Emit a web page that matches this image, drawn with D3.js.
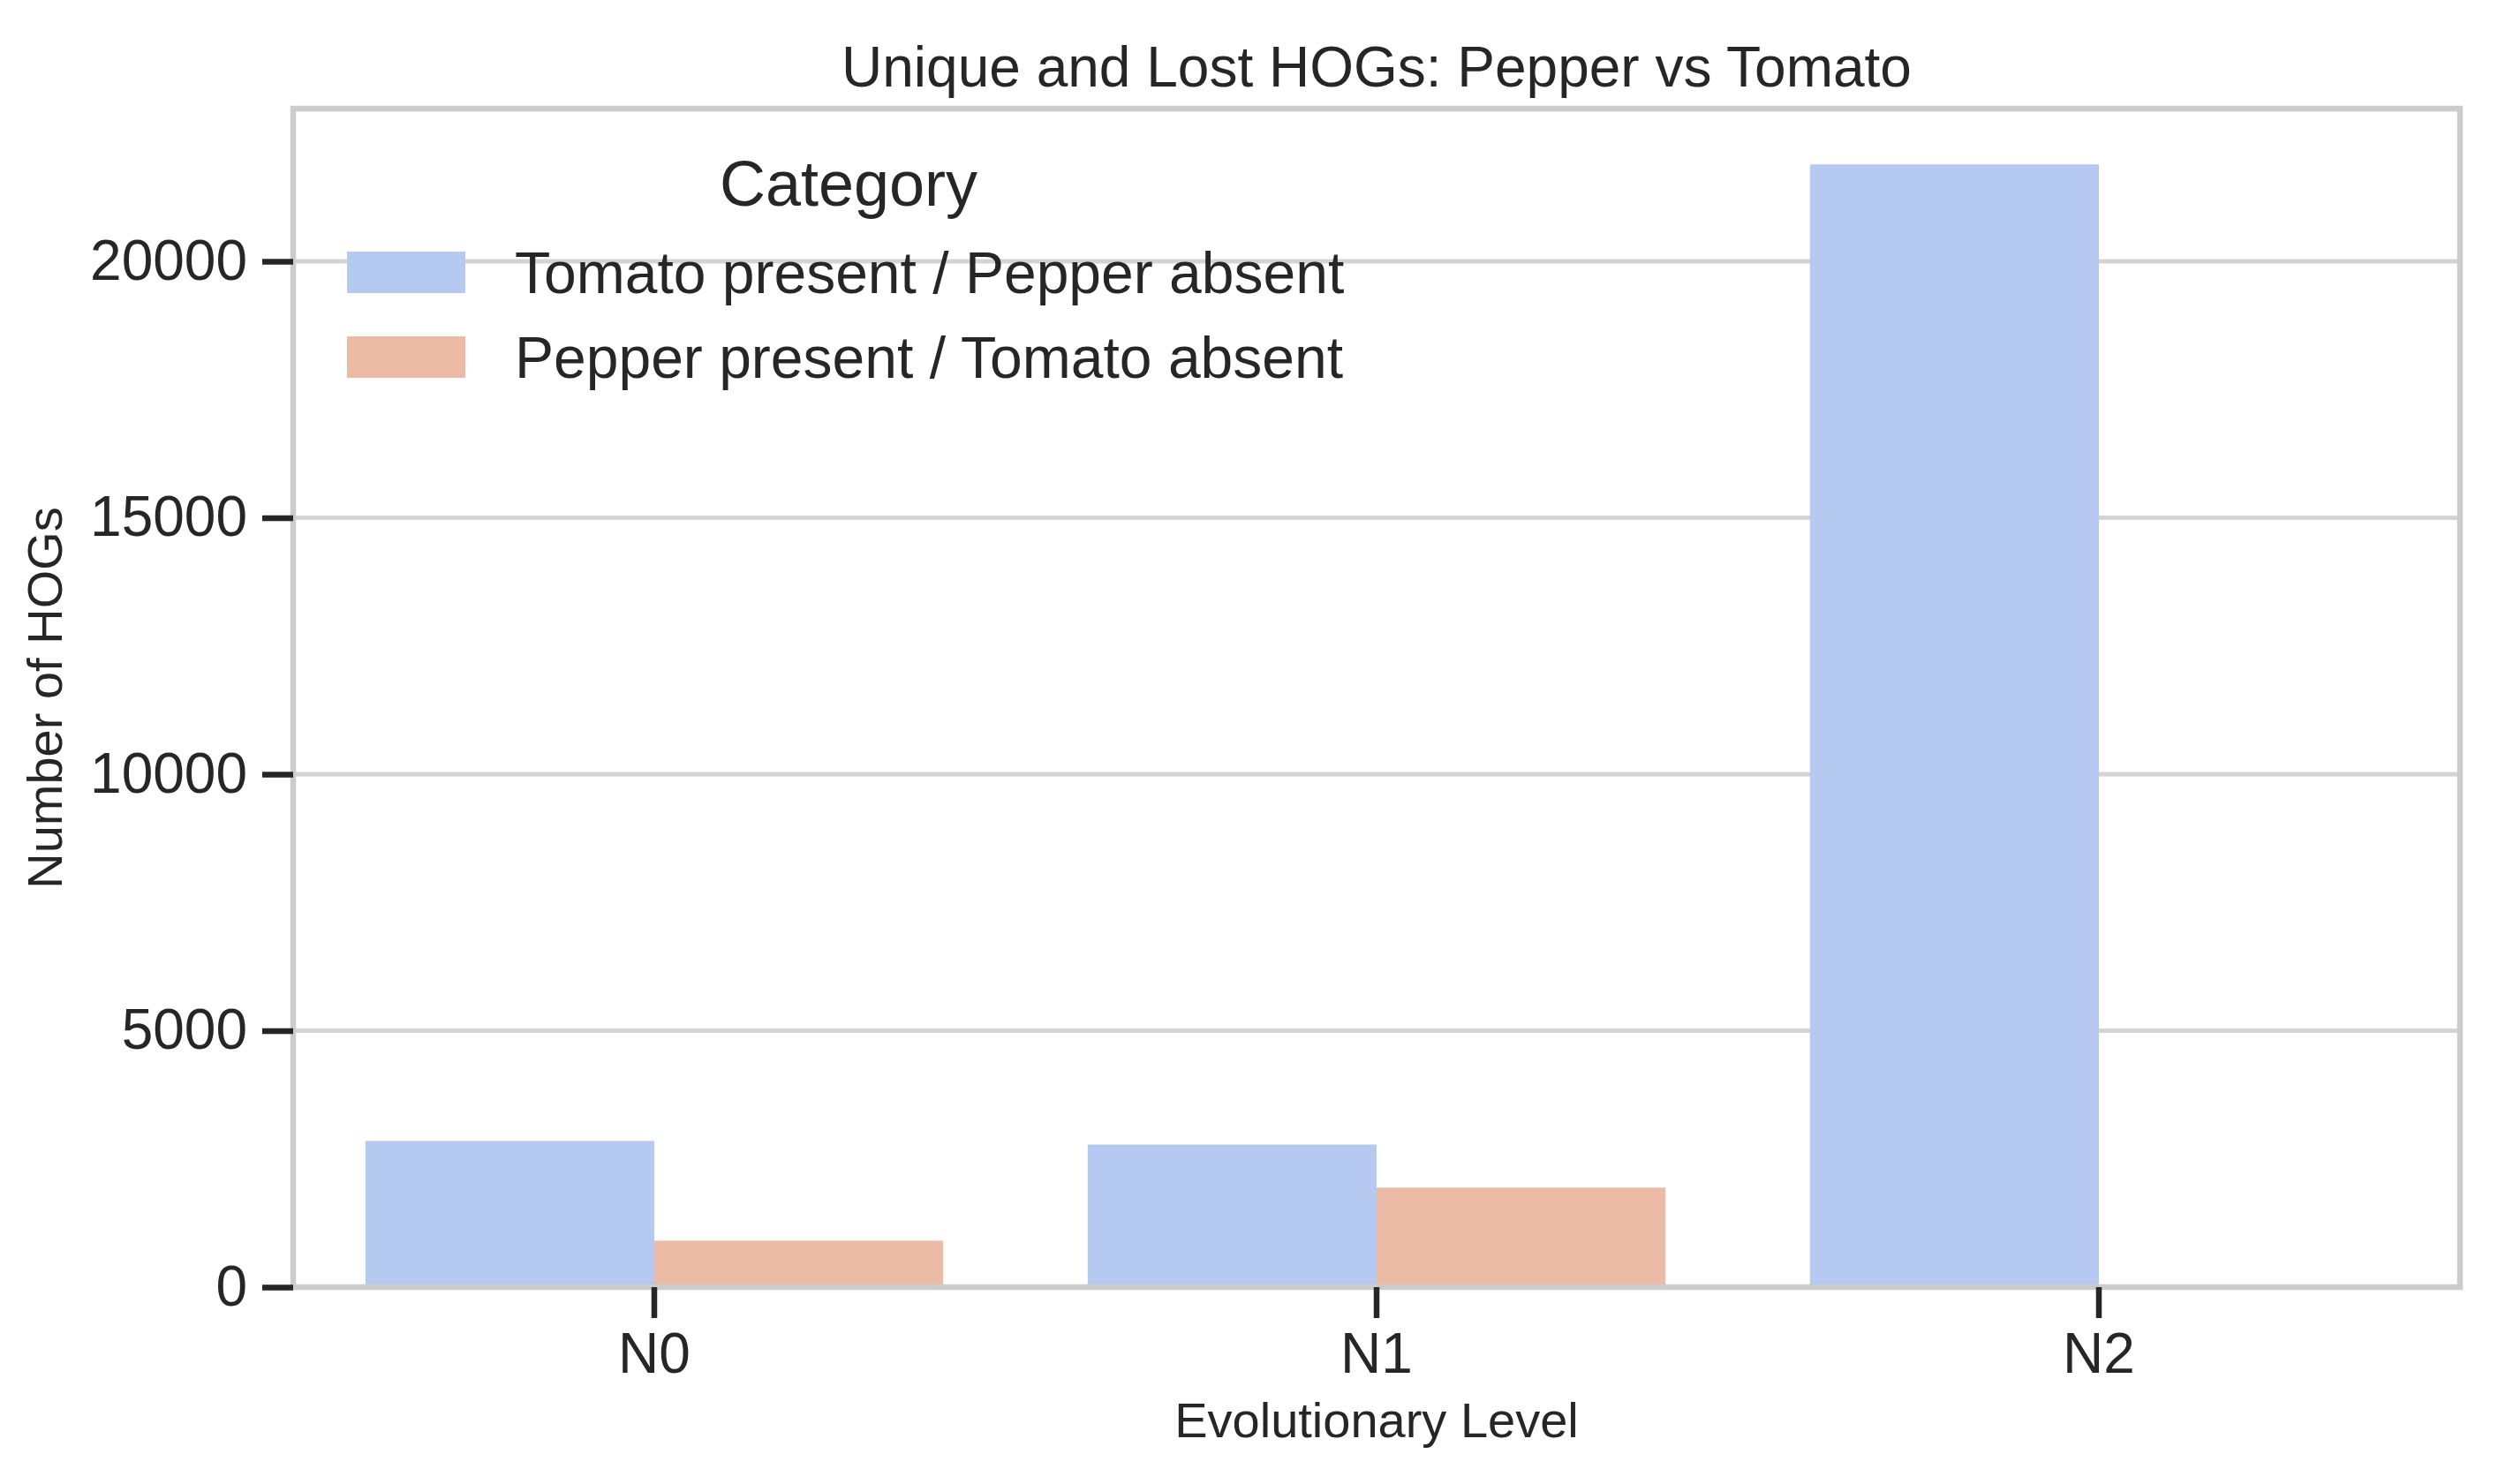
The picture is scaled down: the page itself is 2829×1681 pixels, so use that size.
<!DOCTYPE html>
<html>
<head>
<meta charset="utf-8">
<script src="https://cdn.jsdelivr.net/npm/d3@7"></script>
<style>
  html, body { margin: 0; padding: 0; background: #ffffff; }
  svg { display: block; }
  text { font-family: "Liberation Sans", Arial, sans-serif; fill: #262626; }
</style>
</head>
<body>
<svg id="chart" width="2829" height="1681"></svg>
<script>
// ---- data ----
const levels = ["N0", "N1", "N2"];
const seriesNames = ["Tomato present / Pepper absent", "Pepper present / Tomato absent"];
const tomatoPresent = [2850, 2780, 21890];
const pepperPresent = [905, 1940, 0];
const yTicks = [0, 5000, 10000, 15000, 20000];
const seriesColors = ["#b5c9f1", "#ebbba5"];

const titleText = "Unique and Lost HOGs: Pepper vs Tomato";
const xLabel = "Evolutionary Level";
const yLabel = "Number of HOGs";
const legendTitle = "Category";

// ---- layout ----
const W = 2829, H = 1681;
const plot = { left: 332, right: 2786, top: 123, bottom: 1458 };
const yMax = 22978;

const svg = d3.select("#chart");
svg.append("rect").attr("width", W).attr("height", H).attr("fill", "#ffffff");

const x0 = d3.scaleBand().domain(levels).range([plot.left, plot.right])
  .paddingInner(0.2).paddingOuter(0.1);
const x1 = d3.scaleBand().domain(seriesNames).range([0, x0.bandwidth()]).padding(0);
const y = d3.scaleLinear().domain([0, yMax]).range([plot.bottom, plot.top]);
const color = d3.scaleOrdinal().domain(seriesNames).range(seriesColors);

const rows = levels.map((lv, i) => ({
  level: lv,
  values: [
    { key: seriesNames[0], value: tomatoPresent[i] },
    { key: seriesNames[1], value: pepperPresent[i] }
  ]
}));

// grid lines
svg.append("g").selectAll("line").data(yTicks).join("line")
  .attr("x1", plot.left).attr("x2", plot.right)
  .attr("y1", d => y(d)).attr("y2", d => y(d))
  .attr("stroke", "#d4d4d4").attr("stroke-width", 5);

// bars
const groups = svg.append("g").selectAll("g").data(rows).join("g")
  .attr("transform", d => `translate(${x0(d.level)},0)`);
groups.selectAll("rect").data(d => d.values).join("rect")
  .attr("x", d => x1(d.key))
  .attr("width", x1.bandwidth())
  .attr("y", d => y(d.value))
  .attr("height", d => y(0) - y(d.value))
  .attr("fill", d => color(d.key));

// spines
svg.append("rect")
  .attr("x", plot.left).attr("y", plot.top)
  .attr("width", plot.right - plot.left).attr("height", plot.bottom - plot.top)
  .attr("fill", "none").attr("stroke", "#cccccc").attr("stroke-width", 6.5);

// axes
const yAxis = d3.axisLeft(y).tickValues(yTicks).tickFormat(d3.format("d"))
  .tickSize(35).tickPadding(17);
const gy = svg.append("g").attr("transform", `translate(${plot.left},0)`).call(yAxis);
gy.select(".domain").remove();
gy.selectAll(".tick line").attr("stroke", "#262626").attr("stroke-width", 6.5);
gy.selectAll(".tick text").attr("font-size", 64).attr("fill", "#262626")
  .attr("font-family", "'Liberation Sans', Arial, sans-serif");

const xAxis = d3.axisBottom(x0).tickSize(35).tickPadding(17);
const gx = svg.append("g").attr("transform", `translate(0,${plot.bottom})`).call(xAxis);
gx.select(".domain").remove();
gx.selectAll(".tick line").attr("stroke", "#262626").attr("stroke-width", 6.5);
gx.selectAll(".tick text").attr("font-size", 64).attr("fill", "#262626")
  .attr("font-family", "'Liberation Sans', Arial, sans-serif");

// title and labels
const cx = (plot.left + plot.right) / 2;
const cy = (plot.top + plot.bottom) / 2;
svg.append("text").attr("x", cx).attr("y", 98).attr("text-anchor", "middle")
  .attr("font-size", 64).text(titleText);
svg.append("text").attr("x", cx).attr("y", 1628).attr("text-anchor", "middle")
  .attr("font-size", 56).text(xLabel);
svg.append("text").attr("transform", `translate(70,${cy}) rotate(-90)`)
  .attr("text-anchor", "middle").attr("font-size", 56).text(yLabel);

// legend (no frame)
const legend = svg.append("g").attr("transform", "translate(393,0)");
legend.append("text").attr("x", 568).attr("y", 233).attr("text-anchor", "middle")
  .attr("font-size", 72).text(legendTitle);
const li = legend.selectAll("g.item").data(seriesNames).join("g").attr("class", "item")
  .attr("transform", (d, i) => `translate(0,${285 + i * 96})`);
li.append("rect").attr("width", 134).attr("height", 47).attr("fill", d => color(d));
li.append("text").attr("x", 190).attr("y", 47).attr("font-size", 66).text(d => d);
</script>
</body>
</html>
